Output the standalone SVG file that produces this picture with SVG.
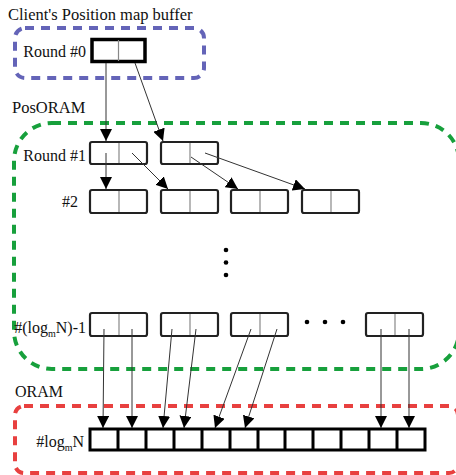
<svg xmlns="http://www.w3.org/2000/svg" width="456" height="475" viewBox="0 0 456 475" font-family="'Liberation Serif', 'DejaVu Serif', serif">
  <defs>
    <marker id="arrow" markerUnits="userSpaceOnUse" markerWidth="12" markerHeight="12" refX="12" refY="6" orient="auto">
      <path d="M0,0 L12,6 L0,12 z" fill="#000"/>
    </marker>
    <style>
      text { font-family: 'Liberation Serif', 'DejaVu Serif', serif; font-size: 16px; fill: #111; }
      .sub { font-size: 10px; }
      .region { fill: none; stroke-width: 4; stroke-dasharray: 9 7; }
      .blue { stroke: #6464b8; }
      .green { stroke: #17a03c; }
      .red { stroke: #e8403f; }
      .blk { fill: #fff; stroke: #222; stroke-width: 2.2; }
      .div { stroke: #888; stroke-width: 1.2; }
      .cell { fill: #fff; stroke: #000; stroke-width: 3; }
      .wire { stroke: #333; stroke-width: 1; fill: none; marker-end: url(#arrow); }
      .dot { fill: #000; }
    </style>
  </defs>

  <rect width="456" height="475" fill="#fff"/>

  <!-- region frames -->
  <g id="client-buffer">
    <rect class="region blue" x="15" y="28" width="189" height="50" rx="10"/>
    <text x="8" y="20" font-family="Liberation Serif" style="font-size:16.5px">Client's Position map buffer</text>
  </g>
  <g id="posoram">
    <rect class="region green" x="14" y="123" width="445" height="246" rx="38"/>
    <text x="12" y="113" font-family="Liberation Serif" style="font-size:16.5px">PosORAM</text>
  </g>
  <g id="oram">
    <rect class="region red" x="15" y="406" width="443" height="67" rx="9"/>
    <text x="15" y="397" font-family="Liberation Serif">ORAM</text>
  </g>

  <!-- round 0 -->
  <g id="round0">
    <text x="86" y="57" text-anchor="end" font-family="Liberation Serif">Round #0</text>
    <rect x="92" y="39.5" width="53" height="22" fill="#fff" stroke="#000" stroke-width="3.5"/>
    <line class="div" x1="118.5" y1="40" x2="118.5" y2="61"/>
  </g>

  <!-- round 1 -->
  <g id="round1">
    <text x="86" y="161" text-anchor="end" font-family="Liberation Serif">Round #1</text>
    <g id="r1-a"><rect class="blk" x="90" y="142" width="57" height="22" rx="2"/><line class="div" x1="119" y1="143" x2="119" y2="163"/></g>
    <g id="r1-b"><rect class="blk" x="161" y="142" width="57" height="22" rx="2"/><line class="div" x1="190" y1="143" x2="190" y2="163"/></g>
  </g>

  <!-- round 2 -->
  <g id="round2">
    <text x="78" y="207" text-anchor="end" font-family="Liberation Serif">#2</text>
    <g id="r2-a"><rect class="blk" x="90" y="190" width="57" height="23" rx="2"/><line class="div" x1="119" y1="191" x2="119" y2="212"/></g>
    <g id="r2-b"><rect class="blk" x="161" y="190" width="57" height="23" rx="2"/><line class="div" x1="190" y1="191" x2="190" y2="212"/></g>
    <g id="r2-c"><rect class="blk" x="231" y="190" width="57" height="23" rx="2"/><line class="div" x1="260" y1="191" x2="260" y2="212"/></g>
    <g id="r2-d"><rect class="blk" x="302" y="190" width="57" height="23" rx="2"/><line class="div" x1="331" y1="191" x2="331" y2="212"/></g>
  </g>

  <!-- vertical ellipsis -->
  <g id="vdots">
    <circle class="dot" cx="226" cy="250" r="2.3"/>
    <circle class="dot" cx="226" cy="262.5" r="2.3"/>
    <circle class="dot" cx="226" cy="275" r="2.3"/>
  </g>

  <!-- last PosORAM round -->
  <g id="round-last">
    <text x="86" y="333" text-anchor="end" font-family="Liberation Serif">#(log<tspan class="sub" dy="4">m</tspan><tspan dy="-4">N)-1</tspan></text>
    <g id="rl-a"><rect class="blk" x="90" y="313" width="57" height="23" rx="2"/><line class="div" x1="119" y1="314" x2="119" y2="335"/></g>
    <g id="rl-b"><rect class="blk" x="161" y="313" width="57" height="23" rx="2"/><line class="div" x1="190" y1="314" x2="190" y2="335"/></g>
    <g id="rl-c"><rect class="blk" x="231" y="313" width="57" height="23" rx="2"/><line class="div" x1="260" y1="314" x2="260" y2="335"/></g>
    <g id="rl-d"><rect class="blk" x="366" y="313" width="57" height="23" rx="2"/><line class="div" x1="395" y1="314" x2="395" y2="335"/></g>
    <circle class="dot" cx="307" cy="322" r="2.3"/>
    <circle class="dot" cx="325" cy="322" r="2.3"/>
    <circle class="dot" cx="343" cy="322" r="2.3"/>
  </g>

  <!-- ORAM leaf level -->
  <g id="oram-level">
    <text x="84" y="447" text-anchor="end" font-family="Liberation Serif">#log<tspan class="sub" dy="4">m</tspan><tspan dy="-4">N</tspan></text>
    <rect class="cell" x="90" y="429" width="335" height="21"/>
    <path d="M118,429V450M146,429V450M174,429V450M202,429V450M230,429V450M258,429V450M285,429V450M313,429V450M341,429V450M369,429V450M397,429V450" stroke="#000" stroke-width="3"/>
  </g>

  <!-- connectors -->
  <g id="connectors">
    <line class="wire" x1="106" y1="63" x2="106" y2="141"/>
    <line class="wire" x1="135" y1="63" x2="163" y2="141"/>
    <line class="wire" x1="106" y1="153" x2="106" y2="189"/>
    <line class="wire" x1="132" y1="153" x2="168" y2="189"/>
    <line class="wire" x1="191" y1="157" x2="238" y2="189"/>
    <line class="wire" x1="205" y1="153" x2="305" y2="189"/>
    <line class="wire" x1="104" y1="329" x2="103" y2="428"/>
    <line class="wire" x1="132" y1="329" x2="132" y2="428"/>
    <line class="wire" x1="172" y1="329" x2="163" y2="428"/>
    <line class="wire" x1="196" y1="329" x2="184" y2="428"/>
    <line class="wire" x1="251" y1="329" x2="215" y2="428"/>
    <line class="wire" x1="277" y1="329" x2="245" y2="428"/>
    <line class="wire" x1="381" y1="329" x2="381" y2="428"/>
    <line class="wire" x1="409" y1="329" x2="409" y2="428"/>
  </g>
</svg>
